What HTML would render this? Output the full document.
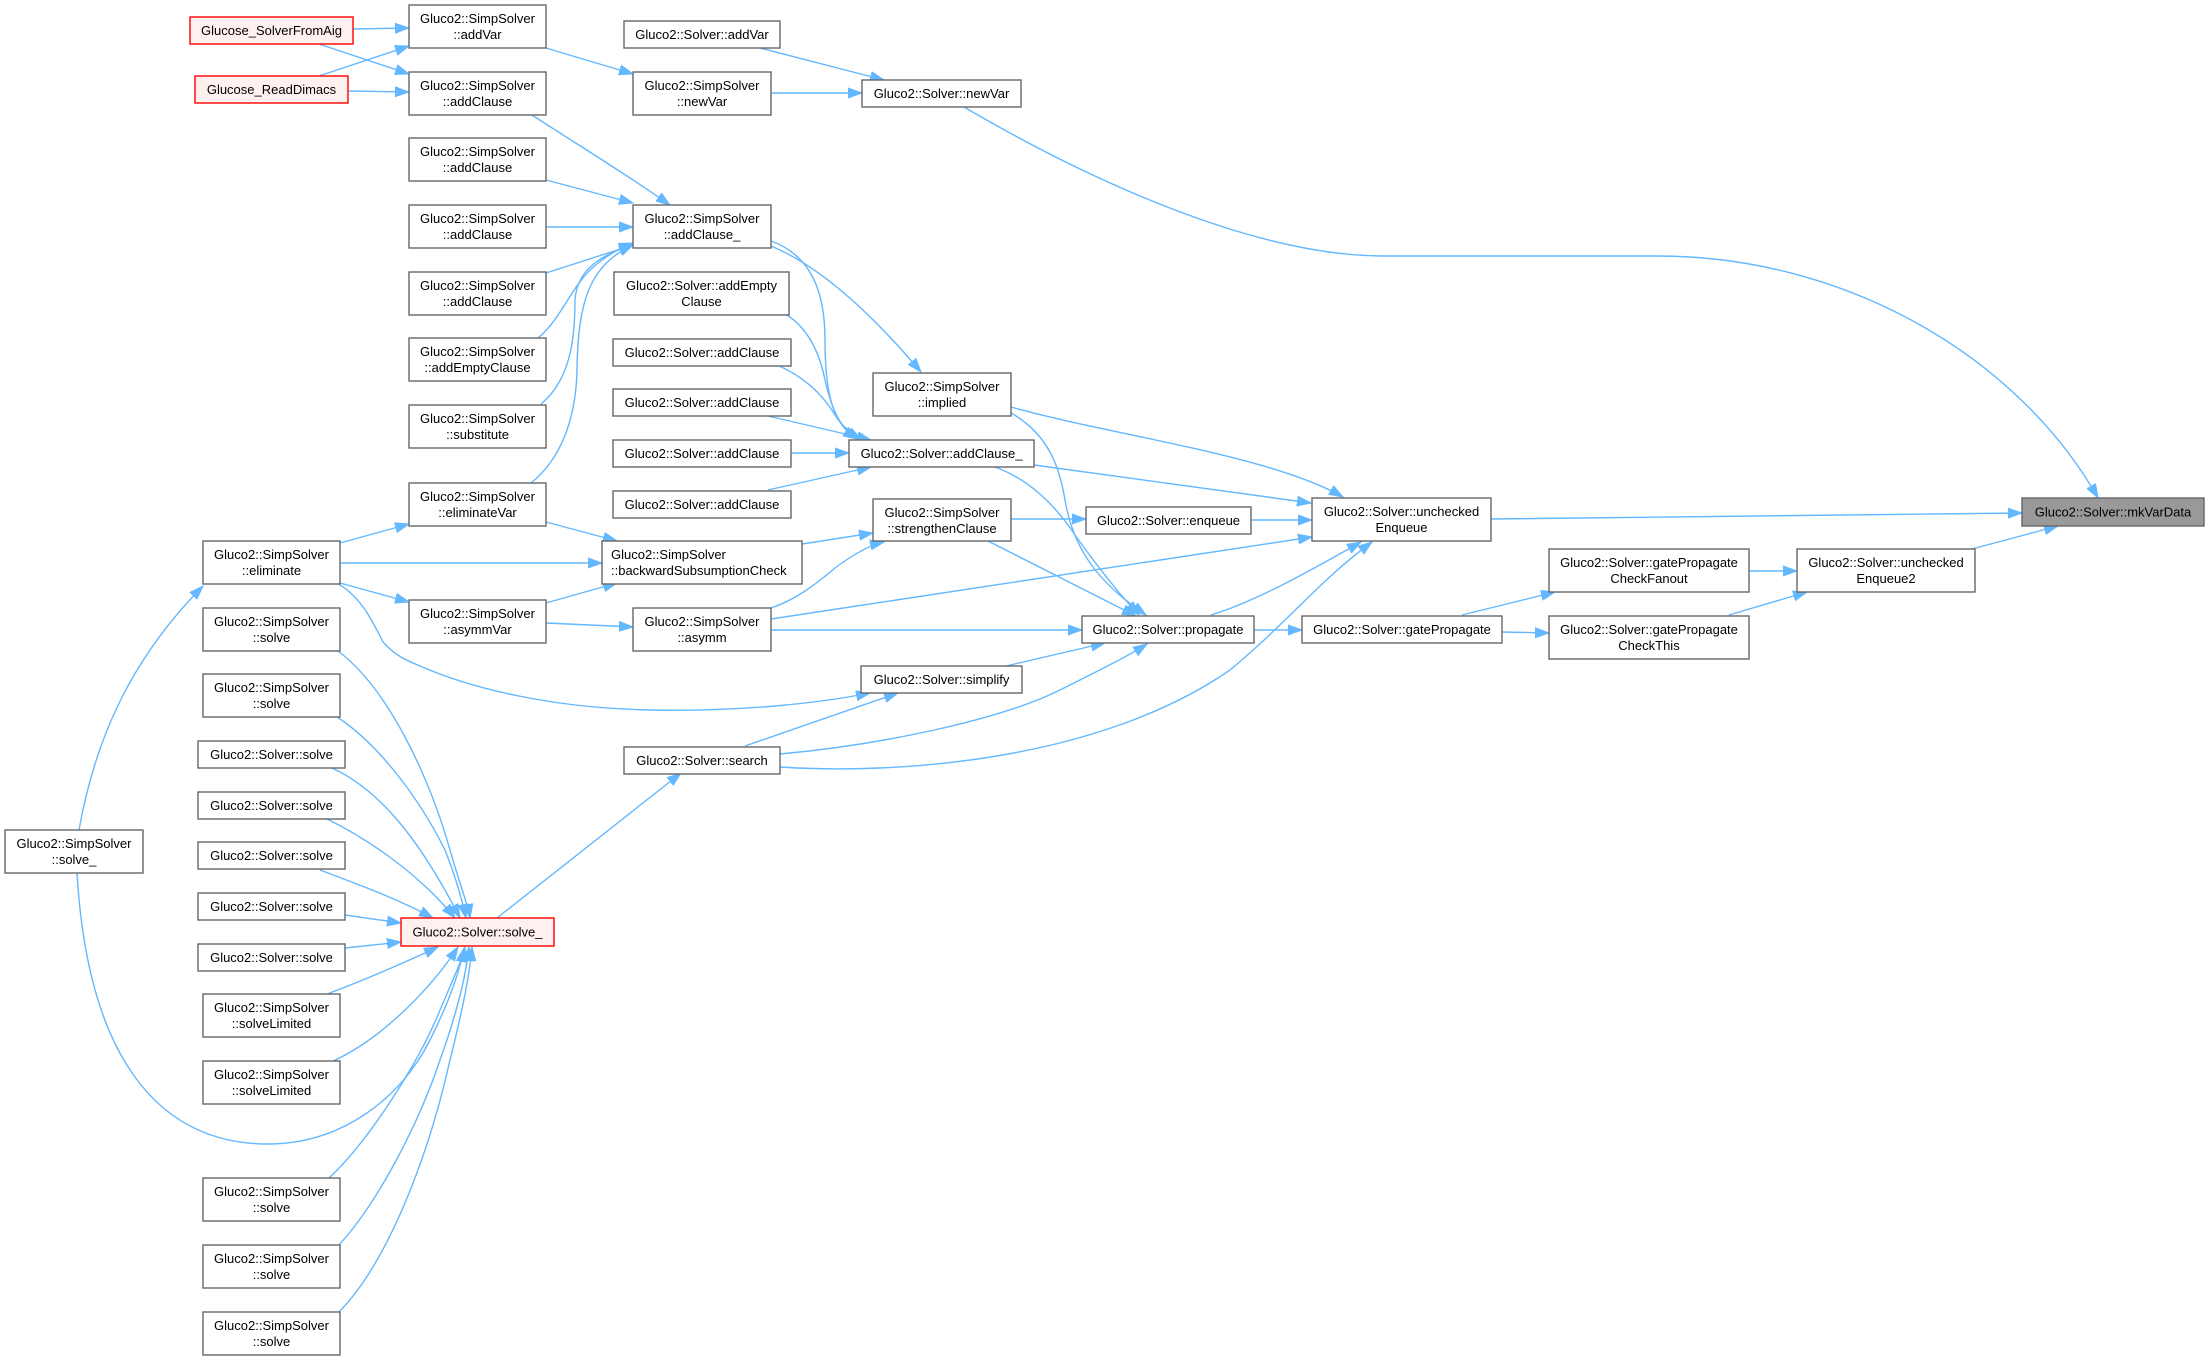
<!DOCTYPE html>
<html>
<head>
<meta charset="utf-8">
<style>
html,body{margin:0;padding:0;background:#ffffff;}
svg{display:block;}
text{font-family:"Liberation Sans",Arial,sans-serif;font-size:13px;fill:#000;}
.n{fill:#ffffff;stroke:#666666;stroke-width:1.4;}
.r{fill:#fff0f0;stroke:#ff0000;stroke-width:1.4;}
.g{fill:#999999;stroke:#666666;stroke-width:1.4;}
.e{fill:none;stroke:#63b8ff;stroke-width:1.4;marker-end:url(#a);}
</style>
</head>
<body>
<svg width="2209" height="1360" viewBox="0 0 2209 1360" xmlns="http://www.w3.org/2000/svg">
<defs>
<marker id="a" markerUnits="userSpaceOnUse" markerWidth="15" markerHeight="11" refX="14" refY="5.5" orient="auto" viewBox="0 0 15 11">
<path d="M0,0.5 L14,5.5 L0,10.5 z" fill="#63b8ff" stroke="#63b8ff" stroke-width="1"/>
</marker>
</defs>

<!-- EDGES -->
<path class="e" d="M353,29 L409,28"/>
<path class="e" d="M319,44 L409,74"/>
<path class="e" d="M319,76 L409,46"/>
<path class="e" d="M348,91 L409,92"/>
<path class="e" d="M546,48 L633,74"/>
<path class="e" d="M760,48 L884,80"/>
<path class="e" d="M771,93 L862,93"/>
<path class="e" d="M964,107 C1080,175 1250,256 1384,256 L1657,256 C1850,256 2020,360 2098,498"/>
<path class="e" d="M532,115 C570,140 620,170 670,205"/>
<path class="e" d="M546,180 L633,203"/>
<path class="e" d="M546,227 L633,227"/>
<path class="e" d="M546,273 L633,245"/>
<path class="e" d="M538,338 C560,320 570,290 590,270 C605,256 620,248 633,243"/>
<path class="e" d="M541,404 C570,380 575,340 575,300 C577,270 600,255 633,245"/>
<path class="e" d="M531,483 C560,460 576,420 577,370 C578,300 590,265 633,245"/>
<path class="e" d="M771,246 C810,262 860,300 921,372"/>
<path class="e" d="M771,241 C810,255 825,290 825,340 C825,400 835,425 857,439"/>
<path class="e" d="M787,315 C810,330 820,355 825,380 C832,410 840,428 857,439"/>
<path class="e" d="M777,365 C800,375 820,390 835,415 C842,426 850,433 861,439"/>
<path class="e" d="M768,416 L871,440"/>
<path class="e" d="M791,453 L849,453"/>
<path class="e" d="M768,490 L871,467"/>
<path class="e" d="M1011,407 C1110,435 1270,455 1343,497"/>
<path class="e" d="M1011,413 C1050,435 1060,470 1065,500 C1075,560 1110,590 1146,615"/>
<path class="e" d="M1034,465 L1311,503"/>
<path class="e" d="M995,467 C1030,480 1055,505 1075,535 C1100,570 1120,595 1139,615"/>
<path class="e" d="M1011,519 L1086,519"/>
<path class="e" d="M988,541 L1136,616"/>
<path class="e" d="M1251,520 L1312,520"/>
<path class="e" d="M771,619 L1312,537"/>
<path class="e" d="M1211,615 C1260,600 1320,565 1361,542"/>
<path class="e" d="M780,767 C900,775 1100,760 1230,670 C1290,620 1320,580 1372,542"/>
<path class="e" d="M1254,630 L1302,630"/>
<path class="e" d="M1462,615 L1555,592"/>
<path class="e" d="M1502,632 L1549,633"/>
<path class="e" d="M1749,571 L1797,571"/>
<path class="e" d="M1729,615 L1807,592"/>
<path class="e" d="M1972,549 L2058,526"/>
<path class="e" d="M1491,519 L2022,513"/>
<path class="e" d="M802,544 L873,533"/>
<path class="e" d="M771,608 C795,600 815,585 835,568 C855,553 870,545 884,542"/>
<path class="e" d="M771,630 L1082,630"/>
<path class="e" d="M1006,666 L1105,643"/>
<path class="e" d="M745,746 L898,693"/>
<path class="e" d="M780,754 C880,745 1000,720 1060,690 C1100,670 1130,655 1147,644"/>
<path class="e" d="M340,543 L409,524"/>
<path class="e" d="M340,563 L602,563"/>
<path class="e" d="M340,583 L409,602"/>
<path class="e" d="M335,582 C360,595 372,620 383,642 C392,652 400,658 420,666 C470,688 550,708 650,710 C740,712 820,703 870,693"/>
<path class="e" d="M546,522 L617,541"/>
<path class="e" d="M546,603 L617,583"/>
<path class="e" d="M546,623 L633,627"/>
<path class="e" d="M79,830 C95,740 130,660 203,586"/>
<path class="e" d="M77,873 C88,1060 160,1144 268,1144 C340,1144 400,1100 430,1040 C450,1000 460,970 464,948"/>
<path class="e" d="M497,918 L681,773"/>
<path class="e" d="M338,651 C390,690 430,780 450,850 C460,885 468,905 470,918"/>
<path class="e" d="M337,717 C380,745 420,800 445,850 C455,875 462,900 466,918"/>
<path class="e" d="M332,768 C380,790 420,840 460,918"/>
<path class="e" d="M327,819 C370,840 420,875 455,918"/>
<path class="e" d="M320,870 C360,885 400,900 433,918"/>
<path class="e" d="M345,915 L401,923"/>
<path class="e" d="M345,948 L401,942"/>
<path class="e" d="M327,994 C370,978 410,960 438,947"/>
<path class="e" d="M333,1061 C380,1040 430,990 458,947"/>
<path class="e" d="M329,1178 C370,1140 420,1060 440,1010 C455,975 462,960 465,947"/>
<path class="e" d="M339,1245 C380,1200 420,1120 440,1060 C458,1010 466,975 469,947"/>
<path class="e" d="M339,1312 C390,1260 430,1150 450,1060 C465,1000 470,970 472,947"/>

<!-- NODES -->
<!-- red nodes -->
<rect class="r" x="190" y="17" width="163" height="27"/>
<text x="271.5" y="35" text-anchor="middle">Glucose_SolverFromAig</text>
<rect class="r" x="195" y="76" width="153" height="27"/>
<text x="271.5" y="94" text-anchor="middle">Glucose_ReadDimacs</text>

<!-- column x=409 -->
<rect class="n" x="409" y="5" width="137" height="43"/>
<text x="477.5" y="23" text-anchor="middle">Gluco2::SimpSolver</text>
<text x="477.5" y="39" text-anchor="middle">::addVar</text>

<rect class="n" x="409" y="72" width="137" height="43"/>
<text x="477.5" y="90" text-anchor="middle">Gluco2::SimpSolver</text>
<text x="477.5" y="106" text-anchor="middle">::addClause</text>

<rect class="n" x="409" y="138" width="137" height="43"/>
<text x="477.5" y="156" text-anchor="middle">Gluco2::SimpSolver</text>
<text x="477.5" y="172" text-anchor="middle">::addClause</text>

<rect class="n" x="409" y="205" width="137" height="43"/>
<text x="477.5" y="223" text-anchor="middle">Gluco2::SimpSolver</text>
<text x="477.5" y="239" text-anchor="middle">::addClause</text>

<rect class="n" x="409" y="272" width="137" height="43"/>
<text x="477.5" y="290" text-anchor="middle">Gluco2::SimpSolver</text>
<text x="477.5" y="306" text-anchor="middle">::addClause</text>

<rect class="n" x="409" y="338" width="137" height="43"/>
<text x="477.5" y="356" text-anchor="middle">Gluco2::SimpSolver</text>
<text x="477.5" y="372" text-anchor="middle">::addEmptyClause</text>

<rect class="n" x="409" y="405" width="137" height="43"/>
<text x="477.5" y="423" text-anchor="middle">Gluco2::SimpSolver</text>
<text x="477.5" y="439" text-anchor="middle">::substitute</text>

<rect class="n" x="409" y="483" width="137" height="43"/>
<text x="477.5" y="501" text-anchor="middle">Gluco2::SimpSolver</text>
<text x="477.5" y="517" text-anchor="middle">::eliminateVar</text>

<rect class="n" x="409" y="600" width="137" height="43"/>
<text x="477.5" y="618" text-anchor="middle">Gluco2::SimpSolver</text>
<text x="477.5" y="634" text-anchor="middle">::asymmVar</text>

<!-- column x=203 -->
<rect class="n" x="203" y="541" width="137" height="43"/>
<text x="271.5" y="559" text-anchor="middle">Gluco2::SimpSolver</text>
<text x="271.5" y="575" text-anchor="middle">::eliminate</text>

<rect class="n" x="203" y="608" width="137" height="43"/>
<text x="271.5" y="626" text-anchor="middle">Gluco2::SimpSolver</text>
<text x="271.5" y="642" text-anchor="middle">::solve</text>

<rect class="n" x="203" y="674" width="137" height="43"/>
<text x="271.5" y="692" text-anchor="middle">Gluco2::SimpSolver</text>
<text x="271.5" y="708" text-anchor="middle">::solve</text>

<rect class="n" x="198" y="741" width="147" height="27"/>
<text x="271.5" y="759" text-anchor="middle">Gluco2::Solver::solve</text>
<rect class="n" x="198" y="792" width="147" height="27"/>
<text x="271.5" y="810" text-anchor="middle">Gluco2::Solver::solve</text>
<rect class="n" x="198" y="842" width="147" height="27"/>
<text x="271.5" y="860" text-anchor="middle">Gluco2::Solver::solve</text>
<rect class="n" x="198" y="893" width="147" height="27"/>
<text x="271.5" y="911" text-anchor="middle">Gluco2::Solver::solve</text>
<rect class="n" x="198" y="944" width="147" height="27"/>
<text x="271.5" y="962" text-anchor="middle">Gluco2::Solver::solve</text>

<rect class="n" x="203" y="994" width="137" height="43"/>
<text x="271.5" y="1012" text-anchor="middle">Gluco2::SimpSolver</text>
<text x="271.5" y="1028" text-anchor="middle">::solveLimited</text>

<rect class="n" x="203" y="1061" width="137" height="43"/>
<text x="271.5" y="1079" text-anchor="middle">Gluco2::SimpSolver</text>
<text x="271.5" y="1095" text-anchor="middle">::solveLimited</text>

<rect class="n" x="203" y="1178" width="137" height="43"/>
<text x="271.5" y="1196" text-anchor="middle">Gluco2::SimpSolver</text>
<text x="271.5" y="1212" text-anchor="middle">::solve</text>

<rect class="n" x="203" y="1245" width="137" height="43"/>
<text x="271.5" y="1263" text-anchor="middle">Gluco2::SimpSolver</text>
<text x="271.5" y="1279" text-anchor="middle">::solve</text>

<rect class="n" x="203" y="1312" width="137" height="43"/>
<text x="271.5" y="1330" text-anchor="middle">Gluco2::SimpSolver</text>
<text x="271.5" y="1346" text-anchor="middle">::solve</text>

<rect class="n" x="5" y="830" width="138" height="43"/>
<text x="74" y="848" text-anchor="middle">Gluco2::SimpSolver</text>
<text x="74" y="864" text-anchor="middle">::solve_</text>

<rect class="r" x="401" y="918" width="153" height="28"/>
<text x="477.5" y="936.5" text-anchor="middle">Gluco2::Solver::solve_</text>

<!-- column ~624 -->
<rect class="n" x="624" y="21" width="156" height="27"/>
<text x="702" y="39" text-anchor="middle">Gluco2::Solver::addVar</text>

<rect class="n" x="633" y="72" width="138" height="43"/>
<text x="702" y="90" text-anchor="middle">Gluco2::SimpSolver</text>
<text x="702" y="106" text-anchor="middle">::newVar</text>

<rect class="n" x="633" y="205" width="138" height="43"/>
<text x="702" y="223" text-anchor="middle">Gluco2::SimpSolver</text>
<text x="702" y="239" text-anchor="middle">::addClause_</text>

<rect class="n" x="614" y="272" width="175" height="43"/>
<text x="701.5" y="290" text-anchor="middle">Gluco2::Solver::addEmpty</text>
<text x="701.5" y="306" text-anchor="middle">Clause</text>

<rect class="n" x="613" y="339" width="178" height="27"/>
<text x="702" y="357" text-anchor="middle">Gluco2::Solver::addClause</text>
<rect class="n" x="613" y="389" width="178" height="27"/>
<text x="702" y="407" text-anchor="middle">Gluco2::Solver::addClause</text>
<rect class="n" x="613" y="440" width="178" height="27"/>
<text x="702" y="458" text-anchor="middle">Gluco2::Solver::addClause</text>
<rect class="n" x="613" y="491" width="178" height="27"/>
<text x="702" y="509" text-anchor="middle">Gluco2::Solver::addClause</text>

<rect class="n" x="602" y="541" width="200" height="43"/>
<text x="611" y="559">Gluco2::SimpSolver</text>
<text x="611" y="575">::backwardSubsumptionCheck</text>

<rect class="n" x="633" y="608" width="138" height="43"/>
<text x="702" y="626" text-anchor="middle">Gluco2::SimpSolver</text>
<text x="702" y="642" text-anchor="middle">::asymm</text>

<rect class="n" x="624" y="747" width="156" height="27"/>
<text x="702" y="765" text-anchor="middle">Gluco2::Solver::search</text>

<!-- column ~862 -->
<rect class="n" x="862" y="80" width="159" height="27"/>
<text x="941.5" y="98" text-anchor="middle">Gluco2::Solver::newVar</text>

<rect class="n" x="873" y="373" width="138" height="43"/>
<text x="942" y="391" text-anchor="middle">Gluco2::SimpSolver</text>
<text x="942" y="407" text-anchor="middle">::implied</text>

<rect class="n" x="849" y="440" width="185" height="27"/>
<text x="941.5" y="458" text-anchor="middle">Gluco2::Solver::addClause_</text>

<rect class="n" x="873" y="499" width="138" height="42"/>
<text x="942" y="517" text-anchor="middle">Gluco2::SimpSolver</text>
<text x="942" y="533" text-anchor="middle">::strengthenClause</text>

<rect class="n" x="861" y="666" width="161" height="27"/>
<text x="941.5" y="684" text-anchor="middle">Gluco2::Solver::simplify</text>

<!-- column ~1086 -->
<rect class="n" x="1086" y="507" width="165" height="27"/>
<text x="1168.5" y="525" text-anchor="middle">Gluco2::Solver::enqueue</text>

<rect class="n" x="1082" y="616" width="172" height="27"/>
<text x="1168" y="634" text-anchor="middle">Gluco2::Solver::propagate</text>

<!-- column ~1312 -->
<rect class="n" x="1312" y="498" width="179" height="43"/>
<text x="1401.5" y="516" text-anchor="middle">Gluco2::Solver::unchecked</text>
<text x="1401.5" y="532" text-anchor="middle">Enqueue</text>

<rect class="n" x="1302" y="616" width="200" height="27"/>
<text x="1402" y="634" text-anchor="middle">Gluco2::Solver::gatePropagate</text>

<!-- column ~1549 -->
<rect class="n" x="1549" y="549" width="200" height="43"/>
<text x="1649" y="567" text-anchor="middle">Gluco2::Solver::gatePropagate</text>
<text x="1649" y="583" text-anchor="middle">CheckFanout</text>

<rect class="n" x="1549" y="616" width="200" height="43"/>
<text x="1649" y="634" text-anchor="middle">Gluco2::Solver::gatePropagate</text>
<text x="1649" y="650" text-anchor="middle">CheckThis</text>

<!-- column ~1797 -->
<rect class="n" x="1797" y="549" width="178" height="43"/>
<text x="1886" y="567" text-anchor="middle">Gluco2::Solver::unchecked</text>
<text x="1886" y="583" text-anchor="middle">Enqueue2</text>

<!-- root -->
<rect class="g" x="2022" y="498" width="182" height="28"/>
<text x="2113" y="516.5" text-anchor="middle">Gluco2::Solver::mkVarData</text>
</svg>
</body>
</html>
